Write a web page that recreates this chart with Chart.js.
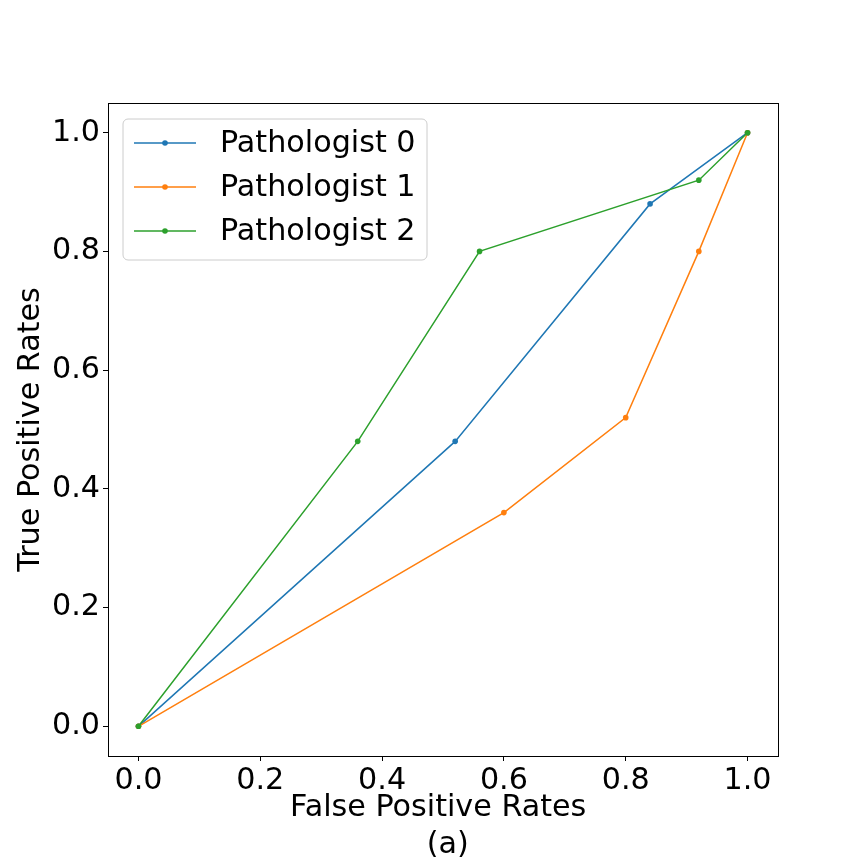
<!DOCTYPE html>
<html>
<head>
<meta charset="utf-8">
<script src="https://cdn.jsdelivr.net/npm/chart.js@4.4.0/dist/chart.umd.min.js"></script>
<style>
  html, body { margin: 0; padding: 0; background: #fff; }
  canvas { display: block; }
</style>
</head>
<body>
<canvas id="rocCanvas" width="864" height="864"></canvas>
<script>
// ROC points per pathologist
const seriesLabels = ['Pathologist 0', 'Pathologist 1', 'Pathologist 2'];
const seriesColors = ['#1f77b4', '#ff7f0e', '#2ca02c'];

const fpr0 = [0, 0.52, 0.84, 1];
const tpr0 = [0, 0.48, 0.88, 1];
const fpr1 = [0, 0.60, 0.80, 0.92, 1];
const tpr1 = [0, 0.36, 0.52, 0.80, 1];
const fpr2 = [0, 0.36, 0.56, 0.92, 1];
const tpr2 = [0, 0.48, 0.80, 0.92, 1];

const tickValues = [0, 0.2, 0.4, 0.6, 0.8, 1.0];
const tickLabels = ['0.0', '0.2', '0.4', '0.6', '0.8', '1.0'];

const xTitle = ['False Positive Rates ', ' (a)'];
const yTitle = 'True Positive Rates';

const FONT = 'DejaVu Sans';
const FS = 30.2;

function toPoints(xs, ys) {
    return xs.map((x, i) => ({ x: x, y: ys[i] }));
}

const allFpr = [fpr0, fpr1, fpr2];
const allTpr = [tpr0, tpr1, tpr2];

const datasets = seriesLabels.map((label, i) => ({
    label: label,
    data: toPoints(allFpr[i], allTpr[i]),
    borderColor: seriesColors[i],
    backgroundColor: seriesColors[i],
    borderWidth: 1.5,
    showLine: true,
    pointRadius: 2.8,
    pointBorderWidth: 0,
    tension: 0,
    order: seriesLabels.length - 1 - i
}));

// frame + legend inside the axes, like matplotlib
const framePlugin = {
    id: 'frame',
    afterDraw(chart) {
        const { ctx, chartArea: a } = chart;
        ctx.save();
        ctx.strokeStyle = '#000';
        ctx.lineWidth = 1;
        ctx.strokeRect(Math.round(a.left) + 0.5, Math.round(a.top) + 0.5,
            Math.round(a.right - a.left), Math.round(a.bottom - a.top));

        // legend box
        const bx = a.left + 15, by = a.top + 16, bw = 304, bh = 141;
        const r = 5;
        ctx.beginPath();
        ctx.moveTo(bx + r, by);
        ctx.arcTo(bx + bw, by, bx + bw, by + bh, r);
        ctx.arcTo(bx + bw, by + bh, bx, by + bh, r);
        ctx.arcTo(bx, by + bh, bx, by, r);
        ctx.arcTo(bx, by, bx + bw, by, r);
        ctx.closePath();
        ctx.fillStyle = 'rgba(255,255,255,0.8)';
        ctx.fill();
        ctx.strokeStyle = '#cccccc';
        ctx.stroke();

        ctx.font = FS + 'px "' + FONT + '"';
        ctx.textBaseline = 'middle';
        ctx.textAlign = 'left';
        chart.data.datasets.forEach((ds, i) => {
            const cy = by + 24 + i * 44;
            ctx.strokeStyle = ds.borderColor;
            ctx.lineWidth = 1.5;
            ctx.beginPath();
            ctx.moveTo(bx + 11, cy);
            ctx.lineTo(bx + 73, cy);
            ctx.stroke();
            ctx.fillStyle = ds.borderColor;
            ctx.beginPath();
            ctx.arc(bx + 42, cy, 2.8, 0, Math.PI * 2);
            ctx.fill();
            ctx.fillStyle = '#000';
            ctx.fillText(ds.label, bx + 97, cy + 1);
        });
        ctx.restore();
    }
};

function fixedTicks(scale) {
    scale.ticks = tickValues.map(v => ({ value: v }));
}

new Chart(document.getElementById('rocCanvas'), {
    type: 'scatter',
    data: { datasets: datasets },
    options: {
        responsive: false,
        animation: false,
        layout: { padding: { top: 103, right: 86, left: 0, bottom: 0 } },
        plugins: {
            legend: { display: false },
            tooltip: { enabled: false }
        },
        scales: {
            x: {
                type: 'linear',
                min: -0.05,
                max: 1.05,
                afterBuildTicks: fixedTicks,
                afterFit: s => { s.height = 108; },
                grid: { drawOnChartArea: false, drawTicks: true, tickLength: 5, color: '#000' },
                border: { display: true, color: '#000' },
                ticks: {
                    color: '#000',
                    padding: 2,
                    maxRotation: 0,
                    font: { family: FONT, size: FS },
                    callback: (v, i) => tickLabels[i]
                },
                title: {
                    display: true,
                    text: xTitle,
                    color: '#000',
                    font: { family: FONT, size: FS, lineHeight: 1.2 },
                    padding: { top: 0, bottom: 1 }
                }
            },
            y: {
                type: 'linear',
                min: -0.05,
                max: 1.05,
                afterBuildTicks: fixedTicks,
                afterFit: s => { s.width = 108; },
                grid: { drawOnChartArea: false, drawTicks: true, tickLength: 5, color: '#000' },
                border: { display: true, color: '#000' },
                ticks: {
                    color: '#000',
                    padding: 3,
                    font: { family: FONT, size: FS },
                    callback: (v, i) => tickLabels[i]
                },
                title: {
                    display: true,
                    text: yTitle,
                    color: '#000',
                    font: { family: FONT, size: FS, lineHeight: 1.2 },
                    padding: { top: 13, bottom: 0 }
                }
            }
        }
    },
    plugins: [framePlugin]
});
</script>
</body>
</html>
